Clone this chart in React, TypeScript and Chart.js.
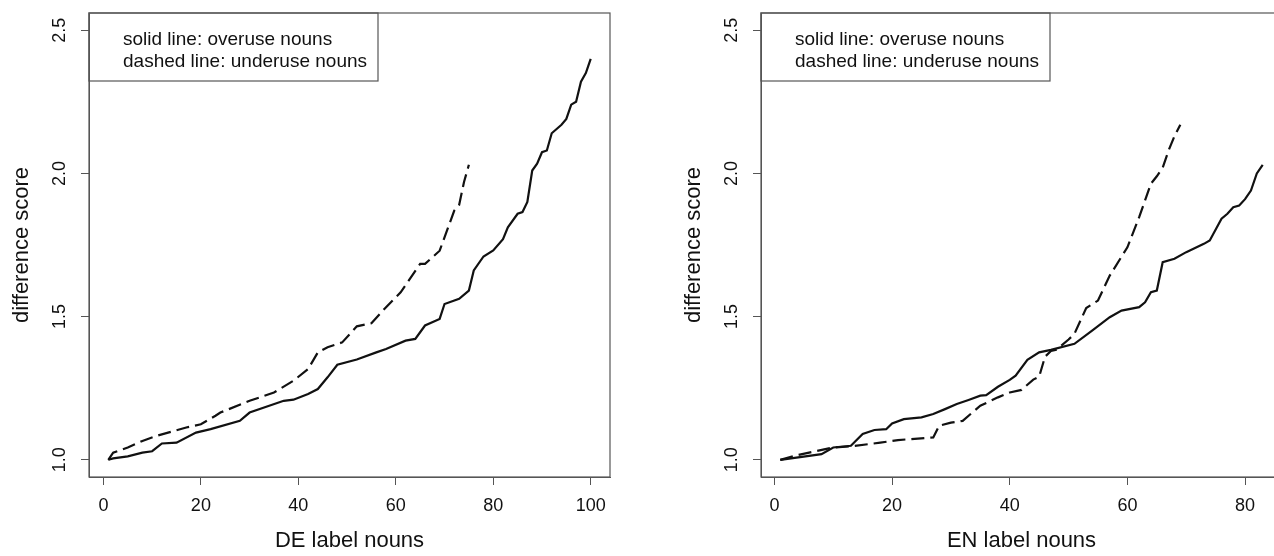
import React, { useEffect, useRef } from "react";
import { Chart, registerables } from "chart.js";
Chart.register(...registerables);

// ---- DATA ----
// DE panel
const deOverX = [1, 2, 5, 8, 10, 12, 15, 19, 22, 28, 30, 37, 39, 42, 44, 46, 48, 52, 56, 58, 62, 64, 66, 69, 70, 73, 75, 76, 78, 80, 82, 83, 85, 86, 87, 88, 89, 90, 91, 92, 94, 95, 96, 97, 98, 99, 100];
const deOverY = [1.0, 1.005, 1.012, 1.025, 1.03, 1.057, 1.06, 1.095, 1.107, 1.136, 1.165, 1.206, 1.21, 1.23, 1.247, 1.288, 1.332, 1.35, 1.375, 1.387, 1.416, 1.422, 1.469, 1.492, 1.544, 1.562, 1.591, 1.661, 1.71, 1.731, 1.77, 1.812, 1.859, 1.865, 1.9, 2.01, 2.034, 2.074, 2.08, 2.14, 2.17, 2.19, 2.24, 2.25, 2.32, 2.35, 2.4];
const deUnderX = [1, 2, 5, 8, 11, 17, 20, 23, 24, 30, 35, 39, 42, 44, 46, 49, 52, 55, 58, 61, 65, 66, 69, 70, 72, 73, 74, 75];
const deUnderY = [1.0, 1.025, 1.043, 1.066, 1.084, 1.113, 1.124, 1.154, 1.165, 1.206, 1.235, 1.276, 1.317, 1.375, 1.393, 1.41, 1.466, 1.477, 1.533, 1.585, 1.684, 1.684, 1.73, 1.777, 1.87, 1.89, 1.97, 2.03];
// EN panel
const enOverX = [1, 8, 10, 13, 15, 17, 19, 20, 22, 25, 27, 29, 31, 33, 35, 36, 38, 40, 41, 43, 45, 47, 51, 54, 57, 59, 62, 63, 64, 65, 66, 68, 70, 73, 74, 76, 77, 78, 79, 80, 81, 82, 83];
const enOverY = [1.0, 1.02, 1.043, 1.049, 1.09, 1.104, 1.107, 1.127, 1.142, 1.148, 1.16, 1.177, 1.195, 1.209, 1.224, 1.226, 1.255, 1.279, 1.294, 1.349, 1.375, 1.384, 1.405, 1.451, 1.498, 1.521, 1.533, 1.55, 1.585, 1.591, 1.69, 1.702, 1.725, 1.754, 1.766, 1.842, 1.859, 1.882, 1.888, 1.91, 1.94, 2.0, 2.03];
const enUnderX = [1, 4, 10, 13, 18, 21, 27, 28, 30, 32, 35, 38, 40, 42, 44, 45, 46, 47, 48, 50, 51, 53, 55, 57, 60, 62, 64, 65, 66, 67, 68, 69];
const enUnderY = [1.0, 1.017, 1.043, 1.047, 1.06, 1.069, 1.078, 1.119, 1.13, 1.136, 1.189, 1.218, 1.235, 1.244, 1.28, 1.29, 1.36, 1.38, 1.385, 1.42, 1.44, 1.53, 1.556, 1.643, 1.742, 1.847, 1.964, 1.99, 2.02, 2.08, 2.13, 2.17];

const deTicks = [0, 20, 40, 60, 80, 100];
const enTicks = [0, 20, 40, 60, 80];
const yTicks = [1.0, 1.5, 2.0, 2.5];
const legendLines = ["solid line: overuse nouns", "dashed line: underuse nouns"];
const yTitle = "difference score";
const deTitle = "DE label nouns";
const enTitle = "EN label nouns";

const FONT = "'Liberation Sans', Arial, Helvetica, sans-serif";
const W = 672;
const H = 556;

const zip = (xs: number[], ys: number[]) => xs.map((x, i) => ({ x, y: ys[i] }));

const boxPlugin = {
  id: "rbox",
  afterDraw(chart: any) {
    const { ctx, chartArea } = chart;
    ctx.save();
    ctx.strokeStyle = "#555";
    ctx.lineWidth = 1.2;
    ctx.strokeRect(chartArea.left, chartArea.top, chartArea.right - chartArea.left, chartArea.bottom - chartArea.top);
    // legend
    const lx = chartArea.left;
    const ly = chartArea.top;
    ctx.strokeRect(lx, ly, 289, 68);
    ctx.fillStyle = "#111";
    ctx.font = `19px ${FONT}`;
    ctx.textAlign = "left";
    ctx.textBaseline = "alphabetic";
    legendLines.forEach((t, i) => ctx.fillText(t, lx + 34, ly + 32 + i * 22));
    ctx.restore();
  },
};

function Panel(props: { solidX: number[]; solidY: number[]; dashX: number[]; dashY: number[]; xTicks: number[]; xTitle: string; left: number }) {
  const ref = useRef<HTMLCanvasElement>(null);
  useEffect(() => {
    const { solidX, solidY, dashX, dashY, xTicks, xTitle } = props;
    const n = Math.max(...solidX);
    const ext = 0.04 * (n - 1);
    const chart = new Chart(ref.current!, {
      type: "scatter",
      data: {
        datasets: [
          { data: zip(solidX, solidY), showLine: true, borderColor: "#111", borderWidth: 2.2, pointRadius: 0, fill: false },
          { data: zip(dashX, dashY), showLine: true, borderColor: "#111", borderWidth: 2.2, borderDash: [13, 6], pointRadius: 0, fill: false },
        ],
      },
      options: {
        responsive: false,
        animation: false,
        layout: { padding: { left: 0, right: 62, top: 13, bottom: 0 } },
        plugins: { legend: { display: false }, tooltip: { enabled: false } },
        scales: {
          x: {
            type: "linear",
            min: 1 - ext,
            max: n + ext,
            afterBuildTicks: (s: any) => { s.ticks = xTicks.map((v) => ({ value: v })); },
            afterFit: (s: any) => { s.height = 79; s.paddingLeft = 0; s.paddingRight = 0; },
            grid: { display: true, drawOnChartArea: false, drawTicks: true, tickLength: 8, color: "#555", lineWidth: 1 },
            border: { display: true, color: "#555", width: 1 },
            ticks: { font: { family: FONT, size: 18 }, color: "#111", padding: 10, maxRotation: 0, minRotation: 0, autoSkip: false },
            title: { display: true, text: xTitle, font: { family: FONT, size: 22 }, color: "#111", padding: { top: 0, bottom: 2 } },
          },
          y: {
            type: "linear",
            min: 0.94,
            max: 2.56,
            afterBuildTicks: (s: any) => { s.ticks = yTicks.map((v) => ({ value: v })); },
            afterFit: (s: any) => { s.width = 89; s.paddingTop = 0; s.paddingBottom = 0; },
            grid: { display: true, drawOnChartArea: false, drawTicks: true, tickLength: 8, color: "#555", lineWidth: 1 },
            border: { display: true, color: "#555", width: 1 },
            ticks: { font: { family: FONT, size: 18 }, color: "#111", padding: 8, minRotation: 90, maxRotation: 90, crossAlign: "center", autoSkip: false, callback: (v: any) => Number(v).toFixed(1) },
            title: { display: true, text: yTitle, font: { family: FONT, size: 22 }, color: "#111", padding: { top: 9, bottom: 0 } },
          },
        },
      },
      plugins: [boxPlugin],
    } as any);
    return () => chart.destroy();
  }, []);
  return (
    <div style={{ position: "absolute", left: props.left, top: 0, width: W, height: H }}>
      <canvas ref={ref} width={W} height={H} style={{ width: W, height: H, display: "block" }} />
    </div>
  );
}

export default function App() {
  return (
    <div style={{ position: "fixed", left: 0, top: 0, width: 1274, height: 556, overflow: "hidden", background: "#fff" }}>
      <Panel solidX={deOverX} solidY={deOverY} dashX={deUnderX} dashY={deUnderY} xTicks={deTicks} xTitle={deTitle} left={0} />
      <Panel solidX={enOverX} solidY={enOverY} dashX={enUnderX} dashY={enUnderY} xTicks={enTicks} xTitle={enTitle} left={672} />
    </div>
  );
}
